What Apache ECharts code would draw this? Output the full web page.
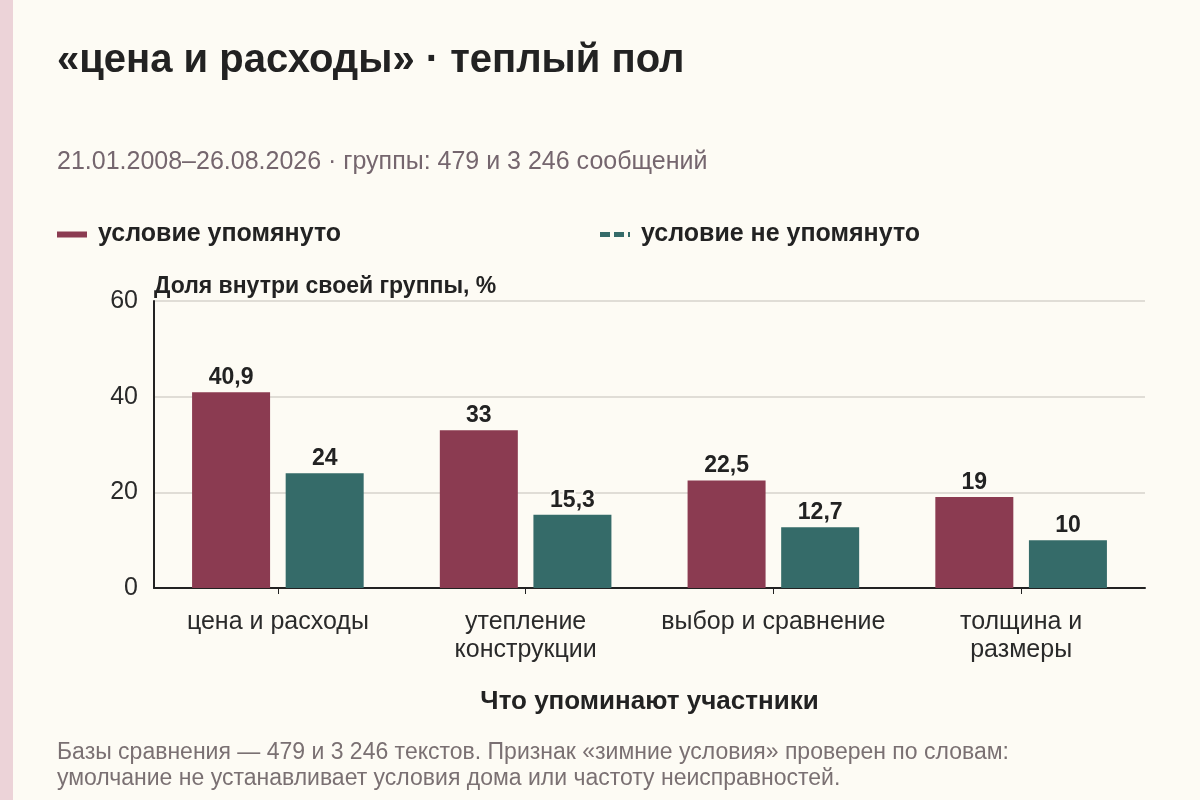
<!DOCTYPE html>
<html>
<head>
<meta charset="utf-8">
<script src="https://cdn.jsdelivr.net/npm/echarts@6/dist/echarts.min.js"></script>
<style>
html,body{margin:0;padding:0;background:#fdfbf4;}
#chart{width:1200px;height:800px;}
</style>
</head>
<body>
<div id="chart"></div>
<script>
var categories = ['цена и расходы', 'утепление\nконструкции', 'выбор и сравнение', 'толщина и\nразмеры'];
var mentioned = [40.9, 33, 22.5, 19];
var notMentioned = [24, 15.3, 12.7, 10];
var seriesNames = ['условие упомянуто', 'условие не упомянуто'];
var yTicks = [0, 20, 40, 60];

var BG = '#fdfbf4';
var RED = '#8b3b51';
var TEAL = '#356b69';
var FONT = '"Liberation Sans", Arial, sans-serif';

var chart = echarts.init(document.getElementById('chart'));

function fmt(p) { return String(p.value).replace('.', ','); }

var labelStyle = {
  show: true, position: 'top', distance: 3,
  formatter: fmt, fontFamily: FONT, fontWeight: 'bold', fontSize: 23, color: '#222',
  textBorderColor: BG, textBorderWidth: 3
};

chart.setOption({
  backgroundColor: BG,
  animation: false,
  textStyle: { fontFamily: FONT },
  title: [
    { text: '«цена и расходы» · теплый пол', left: 52, top: 36,
      textStyle: { fontFamily: FONT, fontWeight: 'bold', fontSize: 40, color: '#222' } },
    { text: '21.01.2008–26.08.2026 · группы: 479 и 3 246 сообщений', left: 52, top: 145,
      textStyle: { fontFamily: FONT, fontWeight: 'normal', fontSize: 25, color: '#75666e' } },
    { text: 'Базы сравнения — 479 и 3 246 текстов. Признак «зимние условия» проверен по словам:\nумолчание не устанавливает условия дома или частоту неисправностей.',
      left: 52, top: 735,
      textStyle: { fontFamily: FONT, fontWeight: 'normal', fontSize: 23, lineHeight: 26, color: '#7a7072' } }
  ],
  graphic: [
    { type: 'rect', left: 0, top: 0, shape: { x: 0, y: 0, width: 13, height: 800 }, style: { fill: '#ecd3d8' } }
  ],
  legend: [
    { data: [{ name: seriesNames[0], icon: 'rect' }], left: 52, top: 217, itemWidth: 30, itemHeight: 6,
      textStyle: { fontFamily: FONT, fontWeight: 'bold', fontSize: 25, color: '#222', padding: [0, 0, 0, 6] } },
    { data: [{ name: seriesNames[1], icon: 'path://M0,0h10v5h-10z M14,0h10v5h-10z M28,0h2v5h-2z' }], left: 595, top: 217,
      itemWidth: 30, itemHeight: 6,
      textStyle: { fontFamily: FONT, fontWeight: 'bold', fontSize: 25, color: '#222', padding: [0, 0, 0, 6] } }
  ],
  grid: { left: 154, right: 55, top: 301, bottom: 212, containLabel: false },
  xAxis: {
    type: 'category', data: categories,
    name: 'Что упоминают участники', nameLocation: 'middle', nameGap: 101,
    nameTextStyle: { fontFamily: FONT, fontWeight: 'bold', fontSize: 26, color: '#222' },
    axisLine: { lineStyle: { color: '#222', width: 2 } },
    axisTick: { show: true, alignWithLabel: true, length: 6, lineStyle: { color: '#222', width: 1 } },
    axisLabel: { fontFamily: FONT, fontSize: 25, color: '#2a2a2a', margin: 20, lineHeight: 28, interval: 0 }
  },
  yAxis: {
    type: 'value', min: yTicks[0], max: yTicks[yTicks.length - 1], interval: 20,
    name: 'Доля внутри своей группы, %', nameLocation: 'end', nameGap: 3,
    nameTextStyle: { fontFamily: FONT, fontWeight: 'bold', fontSize: 23, color: '#222', align: 'left' },
    axisLine: { show: true, lineStyle: { color: '#222', width: 2 } },
    axisTick: { show: false },
    axisLabel: { fontFamily: FONT, fontSize: 25, color: '#2a2a2a', margin: 16, padding: [4, 0, 0, 0] },
    splitLine: { lineStyle: { color: '#d6d3cc', width: 1.5 } }
  },
  series: [
    { name: seriesNames[0], type: 'bar', data: mentioned, barWidth: 78, barGap: '20%',
      itemStyle: { color: RED }, label: labelStyle },
    { name: seriesNames[1], type: 'bar', data: notMentioned, barWidth: 78,
      itemStyle: { color: TEAL }, label: labelStyle }
  ]
});
</script>
</body>
</html>
